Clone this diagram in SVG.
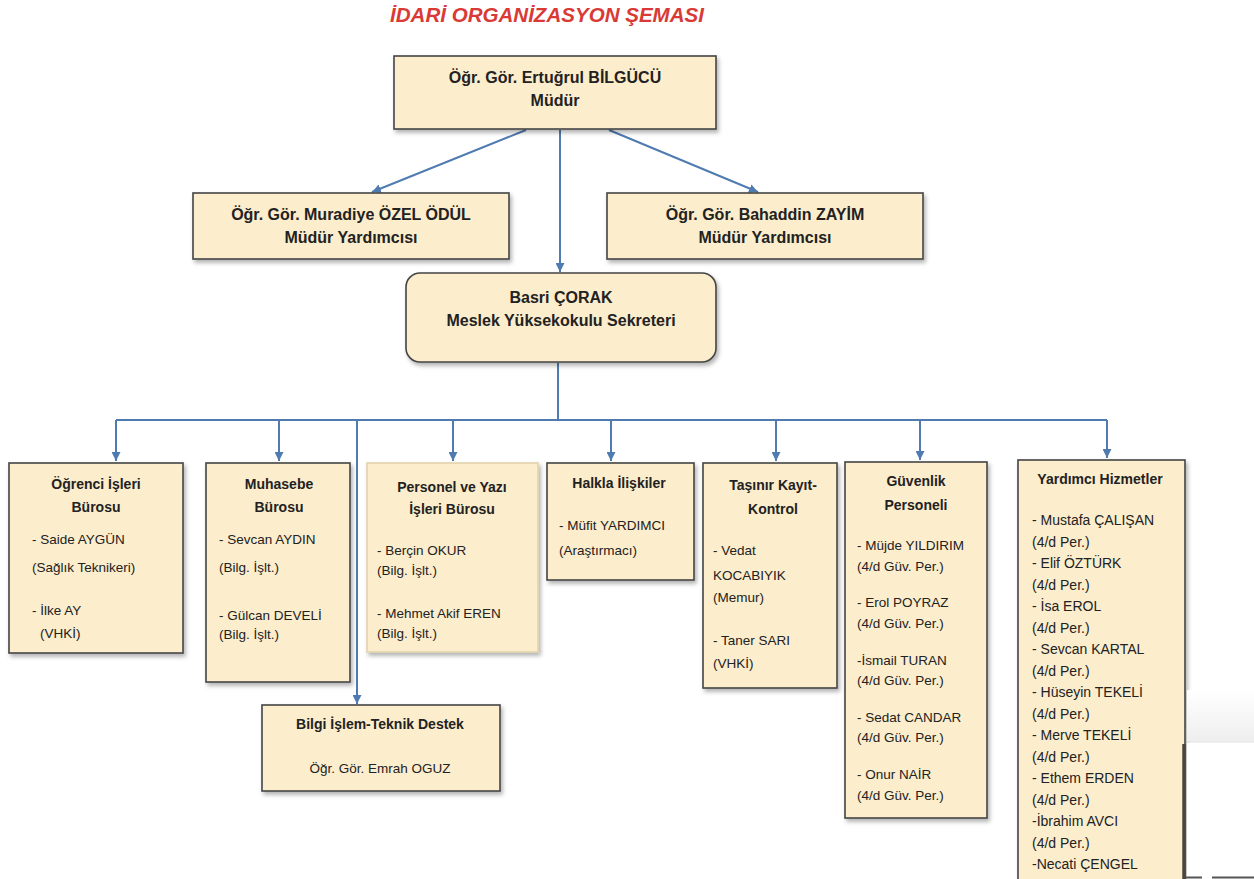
<svg xmlns="http://www.w3.org/2000/svg" width="1254" height="879" viewBox="0 0 1254 879">
<defs>
<filter id="sh" x="-10%" y="-10%" width="130%" height="130%"><feDropShadow dx="2" dy="3" stdDeviation="2" flood-color="#000" flood-opacity="0.3"/></filter>
<marker id="ah" viewBox="0 0 10 10" refX="10" refY="5" markerWidth="9" markerHeight="9" markerUnits="userSpaceOnUse" orient="auto"><path d="M0,0 L10,5 L0,10 z" fill="#4f7bb0"/></marker>
<linearGradient id="band" x1="0" y1="0" x2="0" y2="1"><stop offset="0" stop-color="#ffffff"/><stop offset="1" stop-color="#eeeeee"/></linearGradient>
</defs>
<style>
text{font-family:"Liberation Sans",Arial,sans-serif;fill:#222}
.box{fill:#fcedcc;stroke:#444;stroke-width:1.6;filter:url(#sh)}
.soft{stroke:#e2d3ad}
.h1{font-size:16px;font-weight:700;text-anchor:middle}
.h2{font-size:14px;font-weight:700;text-anchor:middle}
.b{font-size:13.5px}
.y{font-size:14px}
.c{fill:none;stroke:#4f7bb0;stroke-width:2}
.title{font-size:21px;font-weight:700;font-style:italic;fill:#d93a35;text-anchor:middle}
</style>
<rect width="1254" height="879" fill="#ffffff"/>
<text class="title" x="547" y="22" textLength="314" lengthAdjust="spacingAndGlyphs">İDARİ ORGANİZASYON ŞEMASI</text>

<g id="connectors">
<path class="c" d="M526,130 L372,192" marker-end="url(#ah)"/>
<path class="c" d="M560,130 L560,272" marker-end="url(#ah)"/>
<path class="c" d="M609,130 L758,192" marker-end="url(#ah)"/>
<path class="c" d="M558,363 L558,420"/>
<path class="c" d="M116,420 H1107" stroke-width="2.6"/>
<path class="c" d="M116,420 V461" marker-end="url(#ah)"/>
<path class="c" d="M279,420 V461" marker-end="url(#ah)"/>
<path class="c" d="M453,420 V461" marker-end="url(#ah)"/>
<path class="c" d="M611,420 V461" marker-end="url(#ah)"/>
<path class="c" d="M776,420 V461" marker-end="url(#ah)"/>
<path class="c" d="M920,420 V460" marker-end="url(#ah)"/>
<path class="c" d="M1107,420 V458" marker-end="url(#ah)"/>
<path class="c" d="M357,420 V704" marker-end="url(#ah)"/>
</g>

<g id="mudur">
<rect class="box" x="394" y="56" width="322" height="73"/>
<text class="h1" x="555" y="83">Öğr. Gör. Ertuğrul BİLGÜCÜ</text>
<text class="h1" x="555" y="106">Müdür</text>
</g>
<g id="yardimci1">
<rect class="box" x="193" y="193" width="316" height="66"/>
<text class="h1" x="351" y="220">Öğr. Gör. Muradiye ÖZEL ÖDÜL</text>
<text class="h1" x="351" y="243">Müdür Yardımcısı</text>
</g>
<g id="yardimci2">
<rect class="box" x="607" y="193" width="316" height="66"/>
<text class="h1" x="765" y="220">Öğr. Gör. Bahaddin ZAYİM</text>
<text class="h1" x="765" y="243">Müdür Yardımcısı</text>
</g>
<g id="sekreter">
<rect class="box" x="406" y="273" width="310" height="89" rx="14"/>
<text class="h1" x="561" y="303">Basri ÇORAK</text>
<text class="h1" x="561" y="326">Meslek Yüksekokulu Sekreteri</text>
</g>

<g id="ogrenci">
<rect class="box" x="9" y="463" width="174" height="190"/>
<text class="h2" x="96" y="489">Öğrenci İşleri</text>
<text class="h2" x="96" y="512">Bürosu</text>
<text class="b" x="32" y="544">- Saide AYGÜN</text>
<text class="b" x="32" y="572">(Sağlık Teknikeri)</text>
<text class="b" x="32" y="615">- İlke AY</text>
<text class="b" x="40" y="638">(VHKİ)</text>
</g>
<g id="muhasebe">
<rect class="box" x="206" y="463" width="144" height="219"/>
<text class="h2" x="279" y="489">Muhasebe</text>
<text class="h2" x="279" y="512">Bürosu</text>
<text class="b" x="219" y="544">- Sevcan AYDIN</text>
<text class="b" x="219" y="572">(Bilg. İşlt.)</text>
<text class="b" x="219" y="620">- Gülcan DEVELİ</text>
<text class="b" x="219" y="639">(Bilg. İşlt.)</text>
</g>
<g id="personel">
<rect class="box soft" x="367" y="463" width="171" height="189"/>
<text class="h2" x="452" y="492">Personel ve Yazı</text>
<text class="h2" x="452" y="514">İşleri Bürosu</text>
<text class="b" x="377" y="555">- Berçin OKUR</text>
<text class="b" x="377" y="575">(Bilg. İşlt.)</text>
<text class="b" x="377" y="618">- Mehmet Akif EREN</text>
<text class="b" x="377" y="638">(Bilg. İşlt.)</text>
</g>
<g id="halkla">
<rect class="box" x="547" y="463" width="147" height="117"/>
<text class="h2" x="619" y="488">Halkla İlişkiler</text>
<text class="b" x="559" y="530">- Müfit YARDIMCI</text>
<text class="b" x="559" y="555">(Araştırmacı)</text>
</g>
<g id="tasinir">
<rect class="box" x="703" y="463" width="134" height="225"/>
<text class="h2" x="773" y="490">Taşınır Kayıt-</text>
<text class="h2" x="773" y="514">Kontrol</text>
<text class="b" x="713" y="555">- Vedat</text>
<text class="b" x="713" y="580">KOCABIYIK</text>
<text class="b" x="713" y="602">(Memur)</text>
<text class="b" x="713" y="645">- Taner SARI</text>
<text class="b" x="713" y="668">(VHKİ)</text>
</g>
<g id="guvenlik">
<rect class="box" x="845" y="462" width="142" height="356"/>
<text class="h2" x="916" y="486">Güvenlik</text>
<text class="h2" x="916" y="510">Personeli</text>
<text class="b" x="857" y="550">- Müjde YILDIRIM</text>
<text class="b" x="857" y="571">(4/d Güv. Per.)</text>
<text class="b" x="857" y="607">- Erol POYRAZ</text>
<text class="b" x="857" y="628">(4/d Güv. Per.)</text>
<text class="b" x="857" y="665">-İsmail TURAN</text>
<text class="b" x="857" y="685">(4/d Güv. Per.)</text>
<text class="b" x="857" y="722">- Sedat CANDAR</text>
<text class="b" x="857" y="742">(4/d Güv. Per.)</text>
<text class="b" x="857" y="779">- Onur NAİR</text>
<text class="b" x="857" y="800">(4/d Güv. Per.)</text>
</g>
<g id="yardimci-hizmetler">
<rect class="box" x="1018" y="460" width="167" height="440"/>
<text class="h2" x="1100" y="484">Yardımcı Hizmetler</text>
<text class="y" x="1032" y="525">- Mustafa ÇALIŞAN</text>
<text class="y" x="1032" y="547">(4/d Per.)</text>
<text class="y" x="1032" y="568">- Elif ÖZTÜRK</text>
<text class="y" x="1032" y="590">(4/d Per.)</text>
<text class="y" x="1032" y="611">- İsa EROL</text>
<text class="y" x="1032" y="633">(4/d Per.)</text>
<text class="y" x="1032" y="654">- Sevcan KARTAL</text>
<text class="y" x="1032" y="676">(4/d Per.)</text>
<text class="y" x="1032" y="697">- Hüseyin TEKELİ</text>
<text class="y" x="1032" y="719">(4/d Per.)</text>
<text class="y" x="1032" y="740">- Merve TEKELİ</text>
<text class="y" x="1032" y="762">(4/d Per.)</text>
<text class="y" x="1032" y="783">- Ethem ERDEN</text>
<text class="y" x="1032" y="805">(4/d Per.)</text>
<text class="y" x="1032" y="826">-İbrahim AVCI</text>
<text class="y" x="1032" y="848">(4/d Per.)</text>
<text class="y" x="1032" y="869">-Necati ÇENGEL</text>
</g>
<g id="bilgi-islem">
<rect class="box" x="262" y="705" width="238" height="86"/>
<text class="h2" x="380" y="729">Bilgi İşlem-Teknik Destek</text>
<text class="b" x="380" y="773" text-anchor="middle">Öğr. Gör. Emrah OGUZ</text>
</g>

<rect x="1187" y="690" width="67" height="52" fill="url(#band)"/>
<line x1="1187" y1="742" x2="1254" y2="742" stroke="#e4e4e4" stroke-width="1"/>
<rect x="1187" y="743" width="67" height="136" fill="#ffffff"/>
<line x1="1184" y1="744" x2="1184" y2="879" stroke="#4d453d" stroke-width="3.5"/>
<line x1="1186" y1="877.5" x2="1254" y2="877.5" stroke="#555" stroke-width="2" stroke-dasharray="16 10 42"/>
</svg>
